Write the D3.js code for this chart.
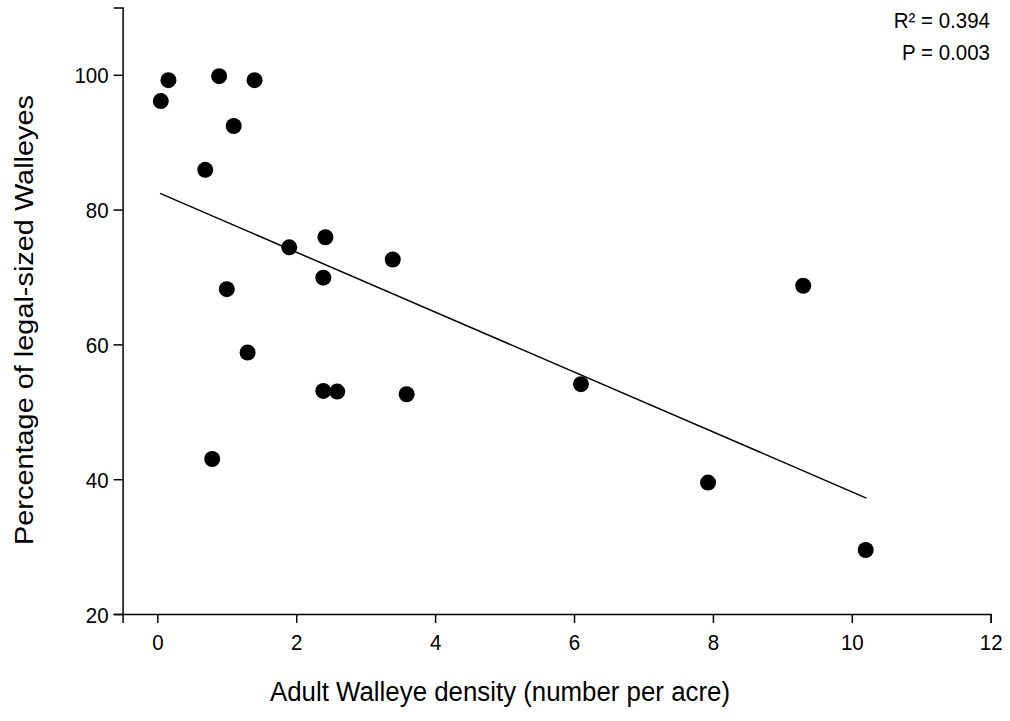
<!DOCTYPE html>
<html>
<head>
<meta charset="utf-8">
<script src="https://cdn.jsdelivr.net/npm/d3@7"></script>
<style>
  html, body { margin: 0; padding: 0; background: #fff; }
  svg { display: block; font-family: "Liberation Sans", Arial, sans-serif; }
</style>
</head>
<body>
<svg id="chart" width="1010" height="721"></svg>
<script>
// Data
const densityX = [0.05, 0.16, 0.89, 1.40, 1.10, 0.69, 1.90, 2.42, 2.39, 3.39, 1.00, 1.30, 2.39, 2.59, 3.59, 6.10, 0.79, 9.30, 7.93, 10.20];
const percentY = [96.1, 99.2, 99.8, 99.2, 92.4, 85.9, 74.4, 75.9, 69.9, 72.6, 68.2, 58.8, 53.1, 53.0, 52.6, 54.1, 43.0, 68.7, 39.5, 29.5];
const fitX = [0.04, 10.21];
const fitY = [82.4, 37.2];
const xTicks = [0, 2, 4, 6, 8, 10, 12];
const yTicks = [20, 40, 60, 80, 100];
const statsLines = ["R² = 0.394", "P = 0.003"];

const FONT = "'Liberation Sans', Arial, sans-serif";
const svg = d3.select("#chart");
const x = d3.scaleLinear().domain([-0.5, 12]).range([122.6, 990.7]);
const y = d3.scaleLinear().domain([20, 110]).range([614, 7.4]);

// Axes
const xAxis = svg.append("g").attr("transform", "translate(0,614)")
  .call(d3.axisBottom(x).tickValues(xTicks).tickFormat(d3.format("d")).tickSizeOuter(0).tickSize(9));
const yAxis = svg.append("g").attr("transform", "translate(122.6,0)")
  .call(d3.axisLeft(y).tickValues(yTicks).tickFormat(d3.format("d")).tickSizeOuter(0).tickSize(9));
[xAxis, yAxis].forEach(a => {
  a.selectAll("path, line").attr("stroke", "#000").attr("stroke-width", 1.5);
  a.selectAll("text").attr("fill", "#000").style("font-size", "20.5px").style("font-family", FONT);
});
// slightly tall glyphs, as in the reference
xAxis.selectAll(".tick text")
  .attr("y", 0).attr("dy", null)
  .attr("transform", "translate(0,36) scale(1,1.1)");
yAxis.selectAll(".tick text")
  .attr("x", 0).attr("dy", null)
  .attr("transform", "translate(-14,8) scale(1,1.1)");

// Regression line
const fit = fitX.map((v, i) => [v, fitY[i]]);
svg.append("path")
  .datum(fit)
  .attr("d", d3.line().x(d => x(d[0])).y(d => y(d[1])))
  .attr("stroke", "#000").attr("stroke-width", 1.5).attr("fill", "none");

// Points
svg.append("g").selectAll("circle")
  .data(densityX.map((v, i) => [v, percentY[i]]))
  .join("circle")
  .attr("cx", d => x(d[0])).attr("cy", d => y(d[1]))
  .attr("r", 8).attr("fill", "#000");

// Axis titles
svg.append("text")
  .attr("transform", "translate(500,701) scale(1,1.12)")
  .attr("text-anchor", "middle")
  .style("font-size", "25px")
  .attr("textLength", 460).attr("lengthAdjust", "spacingAndGlyphs")
  .text("Adult Walleye density (number per acre)");
svg.append("text")
  .attr("transform", "translate(33,320) rotate(-90)")
  .attr("text-anchor", "middle")
  .style("font-size", "25px")
  .attr("textLength", 450).attr("lengthAdjust", "spacingAndGlyphs")
  .text("Percentage of legal-sized Walleyes");

// Stats annotation
svg.append("g").selectAll("text")
  .data(statsLines)
  .join("text")
  .attr("transform", (d, i) => `translate(990,${28 + i * 32}) scale(1,1.12)`)
  .attr("text-anchor", "end")
  .style("font-size", "20.5px")
  .text(d => d);
</script>
</body>
</html>
